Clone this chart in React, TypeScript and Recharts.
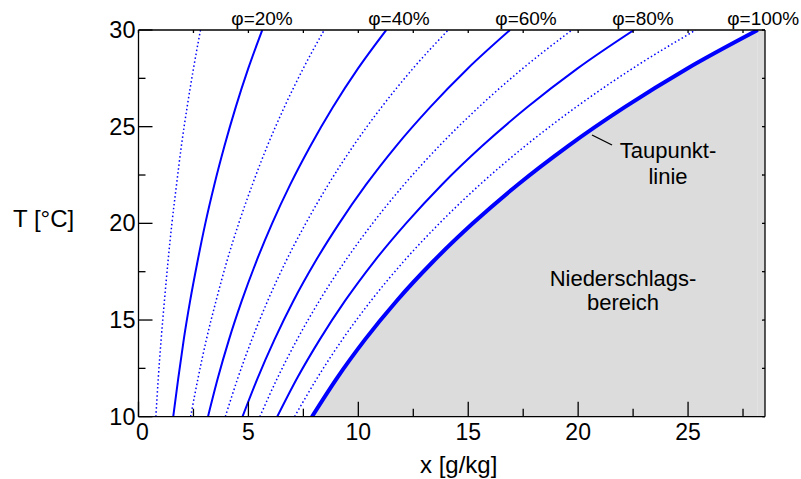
import React from 'react';
import {
  ComposedChart,
  Line,
  Area,
  XAxis,
  YAxis,
  ReferenceArea,
  ReferenceDot,
} from 'recharts';

// Temperature levels (°C) at which the curves were read
const T_LEVELS = [10, 12, 14, 16, 18, 20, 22, 24, 26, 28, 30];

// Water content x [g/kg] of each relative-humidity curve at the T levels above
const PHI_10 = [0.79, 0.9, 1.03, 1.18, 1.34, 1.52, 1.73, 1.95, 2.21, 2.5, 2.82];
const PHI_20 = [1.58, 1.81, 2.06, 2.35, 2.68, 3.04, 3.45, 3.91, 4.42, 4.99, 5.63];
const PHI_30 = [2.37, 2.71, 3.09, 3.53, 4.01, 4.56, 5.18, 5.86, 6.63, 7.49, 8.45];
const PHI_40 = [3.16, 3.61, 4.12, 4.7, 5.35, 6.08, 6.9, 7.82, 8.84, 9.98, 11.27];
const PHI_50 = [3.95, 4.52, 5.16, 5.88, 6.69, 7.61, 8.63, 9.77, 11.05, 12.48, 14.09];
const PHI_60 = [4.73, 5.42, 6.19, 7.05, 8.03, 9.13, 10.35, 11.72, 13.26, 14.97, 16.9];
const PHI_70 = [5.52, 6.32, 7.22, 8.23, 9.37, 10.65, 12.08, 13.68, 15.47, 17.47, 19.72];
const PHI_80 = [6.31, 7.22, 8.25, 9.4, 10.7, 12.17, 13.8, 15.63, 17.68, 19.96, 22.54];
const PHI_90 = [7.1, 8.13, 9.28, 10.58, 12.04, 13.69, 15.53, 17.59, 19.89, 22.46, 25.35];
const PHI_100 = [7.89, 9.03, 10.31, 11.75, 13.38, 15.21, 17.25, 19.54, 22.1, 24.95, 28.17];

// Curve labels at the top edge
const PHI_LABELS = ['φ=20%', 'φ=40%', 'φ=60%', 'φ=80%', 'φ=100%'];
const PHI_LABEL_X = [5.62, 11.85, 17.63, 22.95, 28.42];

// Axis ticks
const X_TICKS = [0, 2.5, 5, 7.5, 10, 12.5, 15, 17.5, 20, 22.5, 25, 27.5];
const Y_TICKS = [10, 12.5, 15, 17.5, 20, 22.5, 25, 27.5, 30];
const X_MAX = 28.5;
const T_MIN = 10;
const T_MAX = 30;

const FONT = '"Liberation Sans", Arial, Helvetica, sans-serif';
const BLUE = '#0000ff';

const toPoints = (xs: number[]) => xs.map((x, i) => ({ x, T: T_LEVELS[i] }));

type Curve = { name: string; values: number[]; kind: 'dot' | 'solid' | 'thick' };
const CURVES: Curve[] = [
  { name: 'p10', values: PHI_10, kind: 'dot' },
  { name: 'p20', values: PHI_20, kind: 'solid' },
  { name: 'p30', values: PHI_30, kind: 'dot' },
  { name: 'p40', values: PHI_40, kind: 'solid' },
  { name: 'p50', values: PHI_50, kind: 'dot' },
  { name: 'p60', values: PHI_60, kind: 'solid' },
  { name: 'p70', values: PHI_70, kind: 'dot' },
  { name: 'p80', values: PHI_80, kind: 'solid' },
  { name: 'p90', values: PHI_90, kind: 'dot' },
  { name: 'p100', values: PHI_100, kind: 'thick' },
];

const isMajor = (v: number) => Math.abs(v % 5) < 1e-9;

const BottomTick = (props: any) => {
  const { x, y, payload } = props;
  const v = payload.value;
  const major = isMajor(v);
  return (
    <g>
      <line x1={x} x2={x} y1={y} y2={y - (major ? 15 : 8)} stroke="#000" strokeWidth={1.3} />
      {major && (
        <text x={x + (v === 0 ? 4 : 0)} y={y + 23.5} textAnchor="middle" fontSize={23} fontFamily={FONT} fill="#000">
          {v}
        </text>
      )}
    </g>
  );
};

const TopTick = (props: any) => {
  const { x, y } = props;
  return <line x1={x} x2={x} y1={y} y2={y + 3} stroke="#000" strokeWidth={1.3} />;
};

const LeftTick = (props: any) => {
  const { x, y, payload } = props;
  const v = payload.value;
  const major = isMajor(v);
  return (
    <g>
      <line x1={x} x2={x + (major ? 14 : 7)} y1={y} y2={y} stroke="#000" strokeWidth={1.3} />
      {major && (
        <text x={x - 3} y={y + 8} textAnchor="end" fontSize={23.5} fontFamily={FONT} fill="#000">
          {v}
        </text>
      )}
    </g>
  );
};

const RightTick = (props: any) => {
  const { x, y } = props;
  return <line x1={x} x2={x - 3} y1={y} y2={y} stroke="#000" strokeWidth={1.3} />;
};

export default function App() {
  const satPoints = toPoints(PHI_100);
  const xSatTop = PHI_100[PHI_100.length - 1];
  return (
    <div style={{ position: 'absolute', left: 0, top: 0, width: 801, height: 479, background: '#fff' }}>
      <ComposedChart
        width={801}
        height={479}
        margin={{ top: 29, right: 35, bottom: 61.3, left: 137.5 }}
        style={{ position: 'absolute', left: 0, top: 0 }}
      >
        <Area
          xAxisId="b"
          yAxisId="l"
          data={satPoints}
          dataKey="T"
          type="monotone"
          baseValue="dataMin"
          stroke="none"
          fill="#dcdcdc"
          fillOpacity={1}
          isAnimationActive={false}
        />
        <ReferenceArea
          xAxisId="b"
          yAxisId="l"
          x1={xSatTop}
          x2={X_MAX}
          y1={T_MIN}
          y2={T_MAX}
          fill="#dcdcdc"
          fillOpacity={1}
          stroke="none"
        />
        {CURVES.map((c) => (
          <Line
            key={c.name}
            xAxisId="b"
            yAxisId="l"
            data={toPoints(c.values)}
            dataKey="T"
            type="monotone"
            dot={false}
            activeDot={false}
            stroke={BLUE}
            strokeWidth={c.kind === 'thick' ? 4 : c.kind === 'solid' ? 2 : 1.5}
            strokeDasharray={c.kind === 'dot' ? '1.5 2.5' : undefined}
            isAnimationActive={false}
          />
        ))}
        <XAxis
          xAxisId="b"
          dataKey="x"
          type="number"
          domain={[0, X_MAX]}
          ticks={X_TICKS}
          interval={0}
          height={1}
          tickSize={0}
          tickMargin={0}
          tickLine={false}
          tick={<BottomTick />}
          axisLine={{ stroke: '#000', strokeWidth: 1.3 }}
          allowDataOverflow
        />
        <XAxis
          xAxisId="t"
          orientation="top"
          dataKey="x"
          type="number"
          domain={[0, X_MAX]}
          ticks={X_TICKS}
          interval={0}
          height={1}
          tickSize={0}
          tickMargin={0}
          tickLine={false}
          tick={<TopTick />}
          axisLine={{ stroke: '#000', strokeWidth: 1.3 }}
          allowDataOverflow
        />
        <YAxis
          yAxisId="l"
          type="number"
          domain={[T_MIN, T_MAX]}
          ticks={Y_TICKS}
          interval={0}
          width={1}
          tickSize={0}
          tickMargin={0}
          tickLine={false}
          tick={<LeftTick />}
          axisLine={{ stroke: '#000', strokeWidth: 1.3 }}
          allowDataOverflow
        />
        <YAxis
          yAxisId="r"
          orientation="right"
          type="number"
          domain={[T_MIN, T_MAX]}
          ticks={Y_TICKS}
          interval={0}
          width={1}
          tickSize={0}
          tickMargin={0}
          tickLine={false}
          tick={<RightTick />}
          axisLine={{ stroke: '#000', strokeWidth: 1.3 }}
          allowDataOverflow
        />
        {PHI_LABELS.map((lab, i) => (
          <ReferenceDot
            key={lab}
            xAxisId="b"
            yAxisId="l"
            x={PHI_LABEL_X[i]}
            y={T_MAX}
            r={0}
            fill="none"
            stroke="none"
            ifOverflow="visible"
            label={(p: any) => (
              <text
                x={p.viewBox.x + (p.viewBox.width || 0) / 2}
                y={p.viewBox.y - 5}
                textAnchor="middle"
                fontSize={19}
                fontFamily={FONT}
                fill="#000"
              >
                {lab}
              </text>
            )}
          />
        ))}
      </ComposedChart>
      <svg width={801} height={479} style={{ position: 'absolute', left: 0, top: 0, pointerEvents: 'none' }}>
        <g fontFamily={FONT} fill="#000">
          <text x={13} y={227} fontSize={24}>T [°C]</text>
          <text x={420} y={473} fontSize={24}>x [g/kg]</text>
          <line x1={592} y1={135} x2={612} y2={145} stroke="#000" strokeWidth={1.3} />
          <text x={668} y={158} fontSize={22} textAnchor="middle">Taupunkt-</text>
          <text x={668} y={184} fontSize={22} textAnchor="middle">linie</text>
          <text x={623} y={286} fontSize={22} textAnchor="middle">Niederschlags-</text>
          <text x={623} y={310} fontSize={22} textAnchor="middle">bereich</text>
        </g>
      </svg>
    </div>
  );
}
